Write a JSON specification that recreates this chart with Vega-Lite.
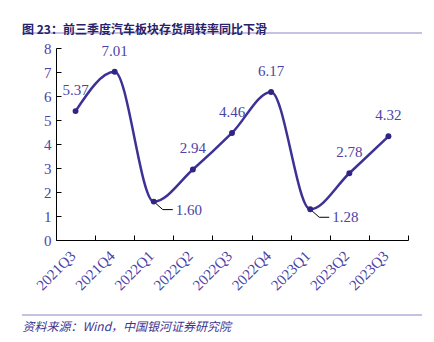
{
  "$schema": "https://vega.github.io/schema/vega-lite/v6.json",
  "width": 352,
  "height": 192,
  "autosize": {"type": "none"},
  "padding": {"left": 56, "top": 48, "right": 26, "bottom": 102},
  "background": "white",
  "title": {
    "text": "图 23：前三季度汽车板块存货周转率同比下滑",
    "anchor": "start",
    "frame": "group",
    "dx": -34,
    "dy": 4,
    "baseline": "top",
    "offset": 0,
    "font": "Noto Sans CJK SC",
    "fontSize": 12,
    "fontWeight": "bold",
    "color": "#262169"
  },
  "config": {"view": {"stroke": null}},
  "data": {
    "values": [
      {"q": "2021Q3", "v": 5.37},
      {"q": "2021Q4", "v": 7.01},
      {"q": "2022Q1", "v": 1.60},
      {"q": "2022Q2", "v": 2.94},
      {"q": "2022Q3", "v": 4.46},
      {"q": "2022Q4", "v": 6.17},
      {"q": "2023Q1", "v": 1.28},
      {"q": "2023Q2", "v": 2.78},
      {"q": "2023Q3", "v": 4.32}
    ]
  },
  "encoding": {
    "x": {
      "field": "q",
      "type": "nominal",
      "sort": null,
      "scale": {"type": "band", "paddingInner": 0, "paddingOuter": 0},
      "axis": {
        "title": "资料来源：Wind，中国银河证券研究院",
        "titleX": -34,
        "titleY": 86,
        "titleAlign": "left",
        "titleBaseline": "middle",
        "titleAnchor": "start",
        "titleFont": "Noto Sans CJK SC",
        "titleFontSize": 12,
        "titleFontWeight": "normal",
        "titleFontStyle": "italic",
        "titleColor": "#3d3590",
        "tickBand": "extent",
        "tickSize": -5,
        "tickColor": "black",
        "domainColor": "black",
        "labelAngle": -45,
        "labelAlign": "right",
        "labelBaseline": "middle",
        "labelPadding": 18,
        "labelOffset": -3,
        "labelFont": "Liberation Serif",
        "labelFontSize": 15,
        "labelColor": "#4b44a6",
        "grid": false
      }
    },
    "y": {
      "field": "v",
      "type": "quantitative",
      "scale": {"domain": [0, 8], "nice": false},
      "axis": {
        "title": null,
        "values": [0, 1, 2, 3, 4, 5, 6, 7, 8],
        "tickSize": -5,
        "tickColor": "black",
        "domainColor": "black",
        "labelPadding": 10,
        "labelFont": "Liberation Serif",
        "labelFontSize": 15,
        "labelColor": "#4b44a6",
        "grid": false
      }
    }
  },
  "layer": [
    {"mark": {"type": "line", "interpolate": "monotone", "color": "#3d3196", "strokeWidth": 2.5}},
    {
      "transform": [{"filter": "datum.v < 2"}],
      "mark": {"type": "rule", "color": "black", "strokeWidth": 1, "x2Offset": 9, "y2Offset": 8},
      "encoding": {"x2": {"field": "q"}, "y2": {"field": "v"}}
    },
    {
      "transform": [{"filter": "datum.v < 2"}],
      "mark": {"type": "rule", "color": "black", "strokeWidth": 1, "xOffset": 9, "yOffset": 8, "x2Offset": 19, "y2Offset": 8},
      "encoding": {"x2": {"field": "q"}, "y2": {"field": "v"}}
    },
    {"mark": {"type": "point", "filled": true, "opacity": 1, "color": "#2e2585", "size": 35}},
    {
      "transform": [{"filter": "datum.v >= 2"}],
      "mark": {"type": "text", "dy": -21, "font": "Liberation Serif", "fontSize": 15, "color": "#4b44a6"},
      "encoding": {"text": {"field": "v", "type": "quantitative", "format": ".2f"}}
    },
    {
      "transform": [{"filter": "datum.v < 2"}],
      "mark": {"type": "text", "align": "left", "dx": 22, "dy": 8, "font": "Liberation Serif", "fontSize": 15, "color": "#4b44a6"},
      "encoding": {"text": {"field": "v", "type": "quantitative", "format": ".2f"}}
    },
    {
      "data": {"values": [{"k": "top"}]},
      "mark": {"type": "rule", "color": "#8a84c6", "strokeWidth": 1},
      "encoding": {"x": {"value": -34}, "x2": {"value": 366}, "y": {"value": -15}}
    },
    {
      "data": {"values": [{"k": "bottom"}]},
      "mark": {"type": "rule", "color": "#8a84c6", "strokeWidth": 1},
      "encoding": {"x": {"value": -34}, "x2": {"value": 366}, "y": {"value": 267}}
    }
  ]
}
